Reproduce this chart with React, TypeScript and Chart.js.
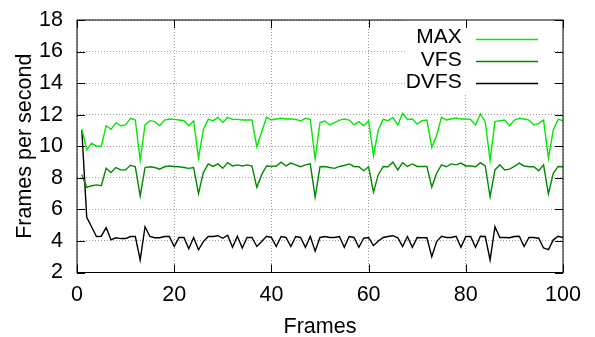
import React, { useEffect, useRef } from 'react';
import { Chart, registerables } from 'chart.js';

Chart.register(...registerables);

// ---- data ----
const FRAME_COUNT = 100;
const FRAMES = Array.from({ length: FRAME_COUNT }, (_, i) => i + 1);

const MAX_FPS = [
  11.1, 9.77, 10.2, 10.0, 10.0, 11.3, 11.07, 11.5, 11.3, 11.35,
  11.77, 11.66, 9.13, 11.35, 11.62, 11.56, 11.3, 11.66, 11.73, 11.7,
  11.66, 11.62, 11.3, 11.6, 9.24, 11.07, 11.7, 11.62, 11.83, 11.5,
  11.83, 11.7, 11.7, 11.66, 11.66, 11.66, 9.97, 10.9, 11.83, 11.66,
  11.73, 11.77, 11.73, 11.73, 11.7, 11.6, 11.77, 11.7, 9.2, 11.5,
  11.6, 11.35, 11.5, 11.66, 11.73, 11.66, 11.35, 11.56, 11.3, 11.62,
  9.4, 11.03, 11.7, 11.62, 11.83, 11.35, 12.09, 11.7, 11.73, 11.4,
  11.62, 11.66, 9.93, 10.7, 11.83, 11.66, 11.73, 11.8, 11.73, 11.73,
  11.7, 11.35, 12.05, 11.56, 9.1, 11.56, 11.62, 11.66, 11.3, 11.66,
  11.77, 11.73, 11.66, 11.35, 11.45, 11.66, 9.24, 11.03, 11.7, 11.62,
];

const VFS_FPS = [
  8.2, 7.4, 7.5, 7.55, 7.5, 8.6, 8.33, 8.65, 8.5, 8.5,
  8.8, 8.7, 6.85, 8.65, 8.7, 8.65, 8.55, 8.7, 8.75, 8.72,
  8.7, 8.65, 8.6, 8.65, 7.0, 8.33, 8.88, 8.72, 8.88, 8.6,
  8.96, 8.75, 8.82, 8.75, 8.82, 8.75, 7.4, 8.2, 8.75, 8.72,
  8.75, 8.99, 8.75, 8.93, 8.82, 8.7, 8.82, 8.88, 6.77, 8.7,
  8.72, 8.65, 8.6, 8.72, 8.78, 8.88, 8.72, 8.7, 8.45, 8.7,
  7.09, 8.2, 8.72, 8.7, 8.99, 8.5, 8.96, 8.72, 8.88, 8.72,
  8.72, 8.72, 7.4, 8.29, 8.82, 8.7, 8.88, 8.82, 8.93, 8.75,
  8.75, 8.7, 8.96, 8.75, 6.8, 8.5, 8.82, 8.5, 8.55, 8.72,
  8.93, 8.75, 8.7, 8.7, 8.45, 8.82, 6.98, 8.29, 8.72, 8.7,
];

const DVFS_FPS = [
  11.0, 5.5, 4.9, 4.28, 4.3, 4.85, 4.07, 4.2, 4.15, 4.15,
  4.28, 4.28, 2.8, 4.9, 4.28, 4.2, 4.2, 4.28, 4.28, 3.65,
  4.22, 4.22, 3.5, 4.22, 3.44, 3.96, 4.28, 4.28, 4.33, 4.17,
  4.36, 3.6, 4.3, 3.55, 4.22, 4.22, 3.65, 3.96, 4.3, 4.22,
  3.65, 4.28, 4.22, 3.65, 4.28, 4.22, 3.6, 4.28, 3.35, 4.22,
  4.28, 4.22, 4.22, 4.28, 3.6, 4.28, 4.22, 3.6, 4.17, 4.22,
  3.7, 4.0, 4.22, 4.28, 4.33, 4.2, 3.65, 4.28, 3.6, 4.22,
  4.2, 4.2, 3.0, 3.96, 4.3, 4.22, 4.22, 4.3, 3.6, 4.28,
  4.28, 3.6, 4.3, 4.28, 2.8, 4.9, 4.22, 4.22, 4.2, 4.28,
  4.3, 3.65, 4.22, 4.22, 4.17, 3.55, 3.45, 4.07, 4.3, 4.22,
];

const SERIES_NAMES = ['MAX', 'VFS', 'DVFS'];
const SERIES_VALUES = [MAX_FPS, VFS_FPS, DVFS_FPS];
const SERIES_COLORS = ['#00ea00', '#008a00', '#000000'];

const X_MIN = 0;
const X_MAX = 100;
const X_STEP = 20;
const Y_MIN = 2;
const Y_MAX = 18;
const Y_STEP = 2;

const X_TITLE = 'Frames';
const Y_TITLE = 'Frames per second';

const FONT_FAMILY = '"Liberation Sans", Arial, Helvetica, sans-serif';
const AXIS_FONT_SIZE = 21.5;
const KEY_FONT_SIZE = 21;

// ---- gnuplot-like frame, inward ticks and key ----
const gnuplotPlugin = {
  id: 'gnuplotFrame',
  beforeDatasetsDraw(chart: any) {
    const { ctx, chartArea } = chart;
    const { top, right } = chartArea;
    ctx.save();
    ctx.fillStyle = '#ffffff';
    ctx.fillRect(right - 158, top, 147, 75);
    ctx.restore();
  },
  afterDatasetsDraw(chart: any) {
    const { ctx, chartArea, scales } = chart;
    const { left, right, top, bottom } = chartArea;
    const xs = scales.x;
    const ys = scales.y;
    const tick = 8;
    ctx.save();
    ctx.strokeStyle = '#000000';
    ctx.lineWidth = 1;
    ctx.setLineDash([]);
    ctx.beginPath();
    xs.ticks.forEach((t: any) => {
      const px = Math.round(xs.getPixelForValue(t.value)) + 0.5;
      ctx.moveTo(px, bottom);
      ctx.lineTo(px, bottom - tick);
      ctx.moveTo(px, top);
      ctx.lineTo(px, top + tick);
    });
    ys.ticks.forEach((t: any) => {
      const py = Math.round(ys.getPixelForValue(t.value)) + 0.5;
      ctx.moveTo(left, py);
      ctx.lineTo(left + tick, py);
      ctx.moveTo(right, py);
      ctx.lineTo(right - tick, py);
    });
    ctx.stroke();
    ctx.strokeRect(left, top, right - left, bottom - top);

    // key
    ctx.font = `${KEY_FONT_SIZE}px ${FONT_FAMILY}`;
    ctx.textAlign = 'right';
    ctx.textBaseline = 'middle';
    SERIES_NAMES.forEach((name, i) => {
      const ty = top + 17.7 + 22.5 * i;
      ctx.fillStyle = '#000000';
      ctx.fillText(name, right - 101.3, ty);
      const ly = Math.round(top + 19 + 22 * i) + 0.5;
      ctx.strokeStyle = SERIES_COLORS[i];
      ctx.lineWidth = 1.5;
      ctx.beginPath();
      ctx.moveTo(right - 87, ly);
      ctx.lineTo(right - 25, ly);
      ctx.stroke();
    });
    ctx.restore();
  },
};

export default function App() {
  const canvasRef = useRef<HTMLCanvasElement | null>(null);

  useEffect(() => {
    const canvas = canvasRef.current;
    if (!canvas) return;

    const datasets = SERIES_NAMES.map((name, i) => ({
      label: name,
      data: FRAMES.map((f, j) => ({ x: f, y: SERIES_VALUES[i][j] })),
      borderColor: SERIES_COLORS[i],
      backgroundColor: SERIES_COLORS[i],
      borderWidth: 1.4,
      pointRadius: 0,
      tension: 0,
      fill: false,
    }));

    const chart = new Chart(canvas, {
      type: 'line',
      data: { datasets },
      plugins: [gnuplotPlugin],
      options: {
        animation: false,
        responsive: false,
        devicePixelRatio: 1,
        layout: { autoPadding: false, padding: { top: 20, right: 32, left: 0, bottom: 0 } },
        plugins: {
          legend: { display: false },
          tooltip: { enabled: false },
        },
        scales: {
          x: {
            type: 'linear',
            min: X_MIN,
            max: X_MAX,
            afterFit: (s: any) => {
              s.height = 64.5;
              s.paddingLeft = 0;
              s.paddingRight = 0;
              s.paddingTop = 0;
              s.paddingBottom = 0;
            },
            ticks: {
              stepSize: X_STEP,
              color: '#000000',
              padding: 10,
              maxRotation: 0,
              font: { family: FONT_FAMILY, size: AXIS_FONT_SIZE },
            },
            grid: {
              color: '#a0a0a0',
              lineWidth: 1,
              drawTicks: false,
            },
            border: { display: false, dash: [1, 2] },
            title: {
              display: true,
              text: X_TITLE,
              color: '#000000',
              font: { family: FONT_FAMILY, size: AXIS_FONT_SIZE },
              padding: { top: 0, bottom: -3.2 },
            },
          },
          y: {
            type: 'linear',
            min: Y_MIN,
            max: Y_MAX,
            afterFit: (s: any) => {
              s.width = 77;
              s.paddingLeft = 0;
              s.paddingRight = 0;
              s.paddingTop = 0;
              s.paddingBottom = 0;
            },
            ticks: {
              stepSize: Y_STEP,
              color: '#000000',
              padding: 14,
              font: { family: FONT_FAMILY, size: AXIS_FONT_SIZE },
            },
            grid: {
              color: '#a0a0a0',
              lineWidth: 1,
              drawTicks: false,
            },
            border: { display: false, dash: [1, 2] },
            title: {
              display: true,
              text: Y_TITLE,
              color: '#000000',
              font: { family: FONT_FAMILY, size: AXIS_FONT_SIZE },
              padding: { top: 12, bottom: 0 },
            },
          },
        },
      },
    });

    return () => {
      chart.destroy();
    };
  }, []);

  return (
    <div style={{ position: 'absolute', left: 0, top: 0, width: 595, height: 337, background: '#ffffff' }}>
      <canvas ref={canvasRef} width={595} height={337} style={{ display: 'block' }} />
    </div>
  );
}
